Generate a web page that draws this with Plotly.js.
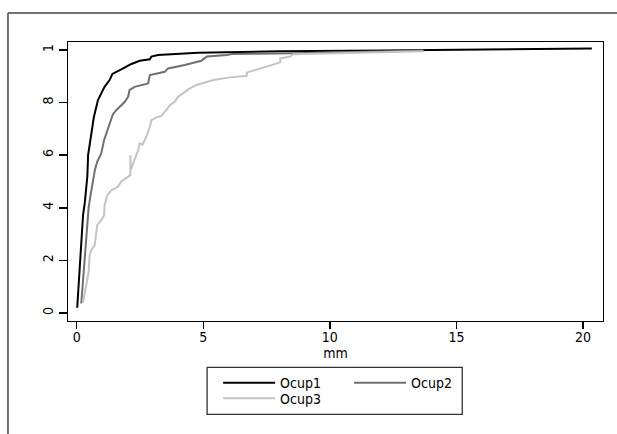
<!DOCTYPE html>
<html>
<head>
<meta charset="utf-8">
<script src="https://cdn.plot.ly/plotly-3.0.1.min.js"></script>
<style>html,body{margin:0;padding:0;background:#fff;overflow:hidden;}#chart{width:617px;height:434px;overflow:hidden;}</style>
</head>
<body>
<div id="chart"></div>
<script>
// Data (cumulative shares by mm)
var ocup1X = [0.02, 0.21, 0.25, 0.32, 0.38, 0.42, 0.45, 0.55, 0.62, 0.68, 0.74, 0.84, 0.97, 1.10, 1.30, 1.41, 1.76, 2.16, 2.49, 2.89, 2.95, 3.21, 4.79, 8.0, 12.0, 16.0, 20.35];
var ocup1Y = [0.02, 0.334, 0.372, 0.42, 0.47, 0.52, 0.60, 0.67, 0.705, 0.746, 0.77, 0.81, 0.835, 0.86, 0.886, 0.909, 0.926, 0.947, 0.959, 0.965, 0.975, 0.981, 0.99, 0.995, 0.998, 1.002, 1.006];

var ocup2X = [0.18, 0.32, 0.38, 0.47, 0.55, 0.64, 0.72, 0.81, 0.97, 1.08, 1.17, 1.26, 1.34, 1.43, 1.57, 1.74, 1.90, 2.03, 2.09, 2.29, 2.82, 2.89, 3.48, 3.61, 4.27, 4.92, 5.14, 5.93, 6.13, 8.56, 11.0, 13.7];
var ocup2Y = [0.036, 0.22, 0.32, 0.40, 0.45, 0.51, 0.545, 0.575, 0.607, 0.657, 0.683, 0.708, 0.733, 0.756, 0.772, 0.79, 0.803, 0.822, 0.848, 0.86, 0.873, 0.905, 0.917, 0.93, 0.943, 0.959, 0.975, 0.981, 0.985, 0.988, 0.993, 0.998];

var ocup3X = [0.25, 0.47, 0.51, 0.58, 0.71, 0.81, 0.97, 1.08, 1.10, 1.21, 1.37, 1.63, 1.75, 2.12, 2.12, 2.14, 2.43, 2.49, 2.60, 2.75, 2.89, 2.95, 3.15, 3.34, 3.54, 3.68, 3.87, 4.00, 4.20, 4.40, 4.73, 5.06, 5.40, 6.06, 6.72, 6.72, 8.04, 8.04, 8.43, 8.56, 11.0, 13.7];
var ocup3Y = [0.04, 0.156, 0.22, 0.24, 0.258, 0.334, 0.353, 0.372, 0.41, 0.448, 0.467, 0.48, 0.499, 0.524, 0.60, 0.545, 0.62, 0.645, 0.64, 0.67, 0.708, 0.733, 0.744, 0.749, 0.772, 0.79, 0.803, 0.822, 0.835, 0.85, 0.867, 0.876, 0.886, 0.896, 0.902, 0.914, 0.953, 0.968, 0.975, 0.984, 0.99, 0.995];

var seriesNames = ['Ocup1', 'Ocup2', 'Ocup3'];
var xTickVals = [0, 5, 10, 15, 20];
var yTickVals = [0, 0.2, 0.4, 0.6, 0.8, 1];
var yTickText = ['0', '2', '4', '6', '8', '1'];
var xTitle = 'mm';

var FONT = '"Liberation Sans Narrow", "Arial Narrow", "DejaVu Sans Condensed", sans-serif';

var traces = [
  {x: ocup1X, y: ocup1Y, name: seriesNames[0], mode: 'lines', line: {color: '#000000', width: 2}, legend: 'legend'},
  {x: ocup2X, y: ocup2Y, name: seriesNames[1], mode: 'lines', line: {color: '#707070', width: 2}, legend: 'legend'},
  {x: ocup3X, y: ocup3Y, name: seriesNames[2], mode: 'lines', line: {color: '#c4c4c4', width: 2}, legend: 'legend2'}
];

var layout = {
  width: 617, height: 434,
  margin: {l: 68, r: 14, t: 42, b: 113},
  paper_bgcolor: '#ffffff', plot_bgcolor: '#ffffff',
  font: {family: FONT, size: 14, color: '#000'},
  showlegend: true,
  xaxis: {
    range: [-0.344, 20.79], tickvals: xTickVals, ticks: 'outside', ticklen: 7, tickwidth: 1.5, tickcolor: '#000',
    showgrid: false, zeroline: false, showline: true, linecolor: '#000', linewidth: 1.3, mirror: true,
    title: {text: xTitle, font: {family: FONT, size: 14}, standoff: 2},
    tickfont: {family: FONT, size: 14}, ticklabelstandoff: -4
  },
  yaxis: {
    range: [-0.0305, 1.0305], tickvals: yTickVals, ticktext: yTickText, tickangle: -90,
    ticks: 'outside', ticklen: 8, tickwidth: 1.5, tickcolor: '#000',
    showgrid: false, zeroline: false, showline: true, linecolor: '#000', linewidth: 1.3, mirror: true,
    tickfont: {family: FONT, size: 14}
  },
  legend: {
    orientation: 'h', x: 0.2806, xanchor: 'left', y: -0.1653, yanchor: 'top',
    borderwidth: 0, bgcolor: 'rgba(0,0,0,0)', itemwidth: 52, entrywidth: 64,
    font: {family: FONT, size: 14}, tracegroupgap: 0
  },
  legend2: {
    orientation: 'h', x: 0.2806, xanchor: 'left', y: -0.2206, yanchor: 'top',
    borderwidth: 0, bgcolor: 'rgba(0,0,0,0)', itemwidth: 52, entrywidth: 64,
    font: {family: FONT, size: 14}
  },
  shapes: [
    {type: 'rect', xref: 'paper', yref: 'paper', x0: 0.26, x1: 0.7369, y0: -0.3348, y1: -0.1661,
     line: {color: '#333', width: 1.3}, fillcolor: 'rgba(0,0,0,0)', layer: 'above'},
    {type: 'line', xref: 'paper', yref: 'paper', x0: -0.1122, x1: 1.0262, y0: 1.104, y1: 1.104,
     line: {color: '#444', width: 1.5}},
    {type: 'line', xref: 'paper', yref: 'paper', x0: -0.1122, x1: -0.1122, y0: 1.104, y1: -0.42,
     line: {color: '#444', width: 1.5}}
  ]
};

Plotly.newPlot('chart', traces, layout, {displayModeBar: false, staticPlot: true}).then(function(){
  // diagnostic-free: ensure nothing else draws on the right edge
  var svgs = document.querySelectorAll('#chart svg.main-svg');
  svgs.forEach(function(s){ s.style.overflow = 'hidden'; });
});
</script>
</body>
</html>
